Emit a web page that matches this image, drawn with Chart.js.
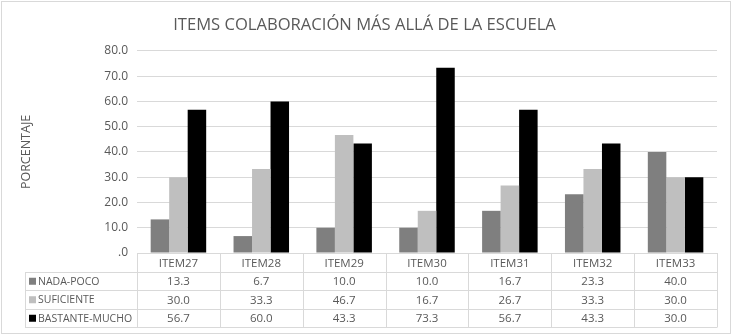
<!DOCTYPE html>
<html>
<head>
<meta charset="utf-8">
<script src="https://cdn.jsdelivr.net/npm/chart.js@4.4.0/dist/chart.umd.min.js"></script>
<style>
  html, body { margin: 0; padding: 0; background: #fff; }
  #wrap { width: 732px; height: 336px; position: relative; }
</style>
</head>
<body>
<div id="wrap"><canvas id="chart"></canvas></div>
<script>
// data
const items = ['ITEM27', 'ITEM28', 'ITEM29', 'ITEM30', 'ITEM31', 'ITEM32', 'ITEM33'];
const nadaPoco = [13.3, 6.7, 10.0, 10.0, 16.7, 23.3, 40.0];
const suficiente = [30.0, 33.3, 46.7, 16.7, 26.7, 33.3, 30.0];
const bastanteMucho = [56.7, 60.0, 43.3, 73.3, 56.7, 43.3, 30.0];
const seriesNames = ['NADA-POCO', 'SUFICIENTE', 'BASTANTE-MUCHO'];
const seriesColors = ['#7f7f7f', '#bfbfbf', '#000000'];

const fontName = "'Open Sans', 'Liberation Sans', sans-serif";
const textGray = '#595959';
const lineGray = '#d9d9d9';

// draws the data table under the plot, using the x scale for the columns
const dataTable = {
    id: 'dataTable',
    afterDraw(chart) {
        const ctx = chart.ctx;
        const x = chart.scales.x;
        const area = chart.chartArea;
        const rowH = 18.5;
        const tableLeft = 25;
        const top = area.bottom;
        const colW = (area.right - area.left) / items.length;

        ctx.save();
        ctx.strokeStyle = lineGray;
        ctx.lineWidth = 1;

        // horizontal lines
        ctx.beginPath();
        ctx.moveTo(area.left, Math.round(top) + 0.5);
        ctx.lineTo(area.right, Math.round(top) + 0.5);
        for (let r = 1; r <= 4; r++) {
            const y = Math.round(top + r * rowH) + 0.5;
            ctx.moveTo(tableLeft, y);
            ctx.lineTo(area.right, y);
        }
        // vertical lines
        ctx.moveTo(tableLeft + 0.5, Math.round(top + rowH));
        ctx.lineTo(tableLeft + 0.5, Math.round(top + 4 * rowH) + 0.5);
        for (let c = 0; c <= items.length; c++) {
            const xx = Math.round(area.left + c * colW) + 0.5;
            ctx.moveTo(xx, Math.round(top));
            ctx.lineTo(xx, Math.round(top + 4 * rowH) + 0.5);
        }
        ctx.stroke();

        ctx.fillStyle = textGray;
        ctx.font = '11.5px ' + fontName;
        ctx.textAlign = 'center';
        ctx.textBaseline = 'middle';
        const rows = [nadaPoco, suficiente, bastanteMucho];
        items.forEach((name, i) => {
            const cx = x.getPixelForValue(i);
            ctx.fillText(name, cx, top + rowH / 2 + 1);
            rows.forEach((vals, r) => {
                ctx.fillText(vals[i].toFixed(1), cx, top + (r + 1.5) * rowH + 1);
            });
        });

        // legend keys in the first column
        ctx.textAlign = 'left';
        ctx.font = '10.5px ' + fontName;
        seriesNames.forEach((s, r) => {
            const cy = top + (r + 1.5) * rowH;
            ctx.fillStyle = seriesColors[r];
            ctx.fillRect(tableLeft + 4, cy - 3, 7, 7);
            ctx.fillStyle = textGray;
            ctx.fillText(s, tableLeft + 13, cy + 1);
        });

        // outer frame
        ctx.strokeStyle = lineGray;
        ctx.strokeRect(1.5, 1.5, 729, 332);
        ctx.restore();
    }
};

new Chart(document.getElementById('chart'), {
    type: 'bar',
    data: {
        labels: items,
        datasets: [
            { label: seriesNames[0], data: nadaPoco, backgroundColor: seriesColors[0] },
            { label: seriesNames[1], data: suficiente, backgroundColor: seriesColors[1] },
            { label: seriesNames[2], data: bastanteMucho, backgroundColor: seriesColors[2] }
        ]
    },
    options: {
        responsive: true,
        maintainAspectRatio: false,
        animation: false,
        layout: { padding: { left: 12, right: 15, top: 0, bottom: 75 } },
        datasets: { bar: { categoryPercentage: 0.67, barPercentage: 1.0 } },
        plugins: {
            legend: { display: false },
            tooltip: { enabled: false },
            title: {
                display: true,
                text: 'ITEMS COLABORACIÓN MÁS ALLÁ DE LA ESCUELA',
                color: textGray,
                font: { family: fontName, size: 16.6, weight: 'normal' },
                padding: { top: 15, bottom: 16 }
            }
        },
        scales: {
            x: {
                ticks: { display: false },
                grid: { display: false },
                border: { display: false }
            },
            y: {
                min: 0,
                max: 80,
                ticks: {
                    stepSize: 10,
                    color: textGray,
                    padding: 9,
                    font: { family: fontName, size: 12 },
                    callback: v => v === 0 ? '.0' : v.toFixed(1)
                },
                grid: { color: lineGray, drawTicks: false },
                border: { display: false },
                title: {
                    display: true,
                    text: 'PORCENTAJE',
                    color: textGray,
                    font: { family: fontName, size: 12.5 },
                    padding: { top: 7, bottom: 0 }
                },
                afterFit(scale) { scale.width = 125; }
            }
        }
    },
    plugins: [dataTable]
});
</script>
</body>
</html>
